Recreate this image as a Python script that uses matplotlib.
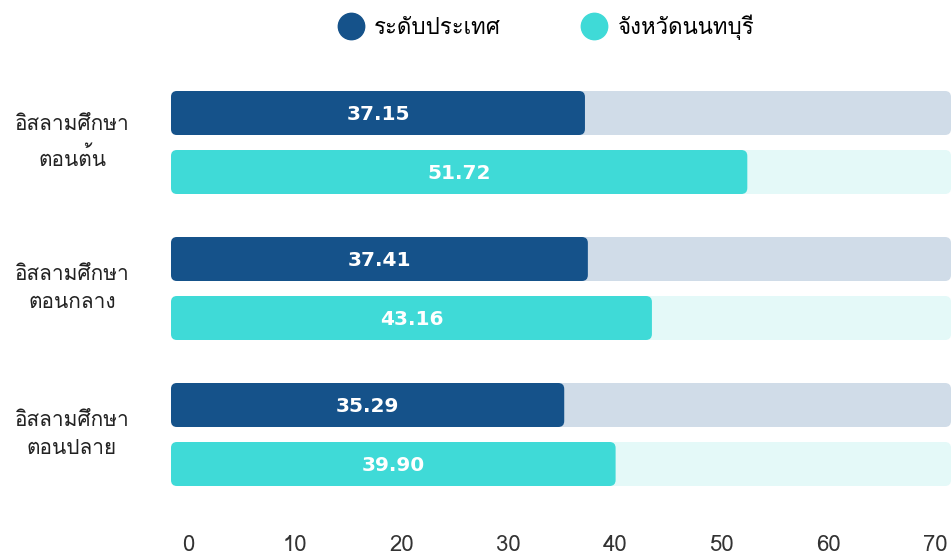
import matplotlib
matplotlib.use("Agg")
import matplotlib.pyplot as plt
from matplotlib.lines import Line2D
from matplotlib.patches import FancyBboxPatch

plt.rcParams["font.family"] = ["Loma", "Noto Sans Thai", "DejaVu Sans"]

categories = ["อิสลามศึกษา\nตอนต้น", "อิสลามศึกษา\nตอนกลาง", "อิสลามศึกษา\nตอนปลาย"]
series_names = ["ระดับประเทศ", "จังหวัดนนทบุรี"]
national = [37.15, 37.41, 35.29]
nonthaburi = [51.72, 43.16, 39.90]
x_max = 70
x_ticks = [0, 10, 20, 30, 40, 50, 60, 70]

colors = ["#15528a", "#3fdad7"]
bg_colors = ["#d0dce8", "#e4f9f8"]

W, H = 951, 555
fig = plt.figure(figsize=(W / 100, H / 100), dpi=100)
ax = fig.add_axes([171 / W, (H - 486) / H, 780 / W, 395 / H])

gap = 59 / 146
bh = 44 / 146
ax.set_xlim(0, x_max)
ax.set_ylim(2 + gap + bh / 2, -bh / 2)
ax.axis("off")

# px -> data conversion for nicely rounded corners
px_x = x_max / 780
px_y = (2 + gap + bh) / 395
aspect = px_y / px_x


def rounded(bars, color, z):
    for b in bars:
        b.set_visible(False)
        p = FancyBboxPatch((b.get_x(), b.get_y()), b.get_width(), b.get_height(),
                           boxstyle=f"round,pad=0,rounding_size={6 * px_x}",
                           mutation_aspect=aspect, fc=color, ec="none", zorder=z)
        ax.add_patch(p)


for i, (vals, c, bg) in enumerate(zip([national, nonthaburi], colors, bg_colors)):
    ys = [g + i * gap for g in range(len(categories))]
    back = ax.barh(ys, [x_max] * len(vals), height=bh)
    rounded(back, bg, 1)
    front = ax.barh(ys, vals, height=bh)
    rounded(front, c, 2)
    for y, v in zip(ys, vals):
        ax.text(v / 2, y + 0.01, f"{v:.2f}", ha="center", va="center", color="white",
                fontsize=14.5, fontweight="bold", family="DejaVu Sans", zorder=3)

for g, cat in enumerate(categories):
    ax.text(-99 * px_x, g + gap / 2, cat, ha="center", va="center",
            fontsize=15, color="#222222", linespacing=1.65, clip_on=False)

# tick labels row
tax = fig.add_axes([188 / W, 20 / H, (935 - 188) / W, 0.001])
tax.set_xlim(0, x_max)
tax.set_xticks(x_ticks)
tax.set_xticklabels([str(t) for t in x_ticks], fontsize=16, color="#333333")
tax.tick_params(length=0, pad=0)
tax.set_yticks([])
for s in tax.spines.values():
    s.set_visible(False)

handles = [Line2D([], [], ls="none", marker="o", markersize=19, color=c) for c in colors]
fig.legend(handles, series_names, loc="center", bbox_to_anchor=(0.574, 0.951), ncol=2,
           frameon=False, fontsize=16, handletextpad=0.45, columnspacing=3.6,
           handlelength=1.2)

fig.savefig("out.png", dpi=100)
